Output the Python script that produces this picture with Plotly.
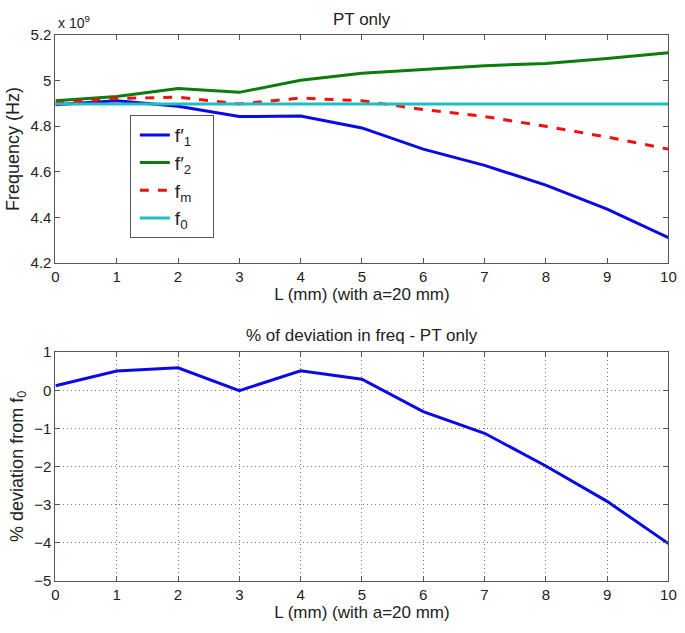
import plotly.graph_objects as go

L_mm = [0, 1, 2, 3, 4, 5, 6, 7, 8, 9, 10]
# frequencies in units of 1e9 Hz
f1p = [4.894, 4.911, 4.887, 4.842, 4.844, 4.792, 4.699, 4.628, 4.541, 4.436, 4.311]
f2p = [4.911, 4.930, 4.965, 4.948, 5.001, 5.032, 5.048, 5.065, 5.075, 5.096, 5.122]
fm = [4.901, 4.921, 4.927, 4.897, 4.923, 4.911, 4.873, 4.842, 4.799, 4.752, 4.699]
f0 = [4.897] * 11
dev_pct = [0.12, 0.505, 0.59, -0.01, 0.51, 0.29, -0.56, -1.13, -1.99, -2.92, -4.03]

xticks = list(range(0, 11))
ytop_ticks = [4.2, 4.4, 4.6, 4.8, 5.0, 5.2]
ytop_text = ["4.2", "4.4", "4.6", "4.8", "5", "5.2"]
ybot_ticks = [1, 0, -1, -2, -3, -4, -5]

FONT = "Liberation Sans, Arial, sans-serif"
BLUE = "#0a0ae6"
GREEN = "#0b7d0b"
RED = "#f01010"
CYAN = "#1dbfbf"
PAD = "\u00a0\u00a0\u00a0"

fig = go.Figure()
fig.add_trace(go.Scatter(x=L_mm, y=f1p, mode="lines", name="f′<sub>1</sub>" + PAD,
                         line=dict(color=BLUE, width=3), xaxis="x", yaxis="y"))
fig.add_trace(go.Scatter(x=L_mm, y=f2p, mode="lines", name="f′<sub>2</sub>" + PAD,
                         line=dict(color=GREEN, width=3), xaxis="x", yaxis="y"))
fig.add_trace(go.Scatter(x=L_mm, y=fm, mode="lines", name="f<sub>m</sub>" + PAD,
                         line=dict(color=RED, width=3, dash="dash"), xaxis="x", yaxis="y"))
fig.add_trace(go.Scatter(x=L_mm, y=f0, mode="lines", name="f<sub>0</sub>" + PAD,
                         line=dict(color=CYAN, width=3), xaxis="x", yaxis="y"))
fig.add_trace(go.Scatter(x=L_mm, y=dev_pct, mode="lines", showlegend=False,
                         line=dict(color=BLUE, width=3), xaxis="x2", yaxis="y2"))

axcommon = dict(showline=True, linecolor="#555", linewidth=1, mirror="ticks",
                ticks="inside", ticklen=5, tickcolor="#555", zeroline=False,
                tickfont=dict(size=15, color="#222", family=FONT))

XDOM = [0.0764, 0.9873]

fig.update_layout(
    width=685, height=633,
    margin=dict(l=0, r=0, t=0, b=0),
    paper_bgcolor="white", plot_bgcolor="white",
    font=dict(family=FONT, color="#222"),
    xaxis=dict(domain=XDOM, anchor="y", range=[0, 10], tickvals=xticks,
               showgrid=False,
               title=dict(text="L (mm) (with a=20 mm)", font=dict(size=17), standoff=4),
               **axcommon),
    yaxis=dict(domain=[0.5877, 0.958], anchor="x", range=[4.2, 5.2], tickvals=ytop_ticks,
               ticktext=ytop_text, showgrid=False,
               title=dict(text="Frequency (Hz)", font=dict(size=18), standoff=6),
               **axcommon),
    xaxis2=dict(domain=XDOM, anchor="y2", range=[0, 10], tickvals=xticks,
                showgrid=True, gridcolor="#777", griddash="1px,3px", gridwidth=1,
                title=dict(text="L (mm) (with a=20 mm)", font=dict(size=17), standoff=4),
                **axcommon),
    yaxis2=dict(domain=[0.0722, 0.4428], anchor="x2", range=[-5, 1], tickvals=ybot_ticks,
                showgrid=True, gridcolor="#777", griddash="1px,3px", gridwidth=1,
                title=dict(text="% deviation from f<sub>0</sub>", font=dict(size=18), standoff=6),
                **axcommon),
    legend=dict(x=0.187, y=1 - 109 / 633, xanchor="left", yanchor="top",
                bgcolor="white", bordercolor="#555", borderwidth=1,
                font=dict(size=19, family=FONT, color="#222"),
                indentation=4, tracegroupgap=0),
    annotations=[
        dict(text="PT only", x=0.532, y=1 - 11 / 633, xref="paper", yref="paper",
             showarrow=False, font=dict(size=17), xanchor="center", yanchor="middle"),
        dict(text="% of deviation in freq - PT only", x=0.532, y=1 - 335 / 633,
             xref="paper", yref="paper", showarrow=False, font=dict(size=17),
             xanchor="center", yanchor="middle"),
        dict(text="x 10<sup>9</sup>", x=0.077, y=0.961, xref="paper", yref="paper",
             showarrow=False, font=dict(size=14), xanchor="left", yanchor="bottom"),
    ],
)

fig.write_html("out.html", config={"displayModeBar": False},
               post_script="document.body.style.margin='0';")
